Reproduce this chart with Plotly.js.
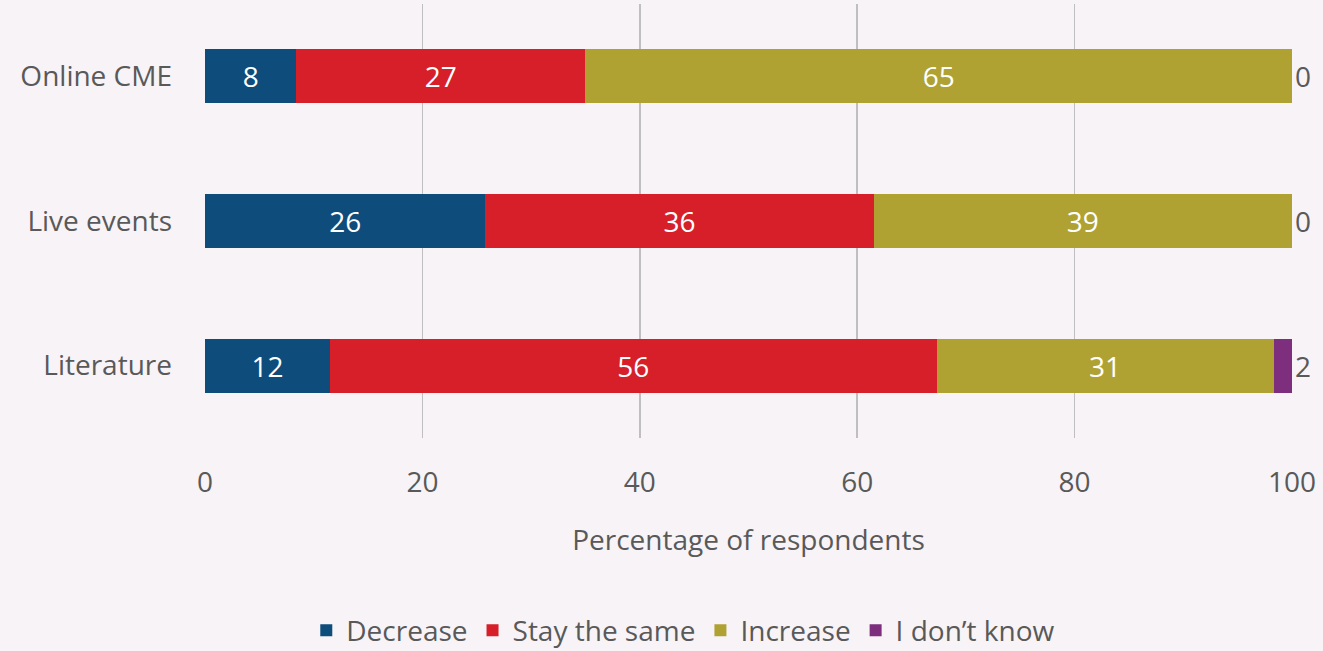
<!DOCTYPE html>
<html><head><meta charset="utf-8">
<script src="https://cdn.plot.ly/plotly-3.0.1.min.js"></script>
<style>html,body{margin:0;padding:0;background:#f7f3f7;}#chart{width:1323px;height:651px;}</style>
</head><body><div id="chart"></div>
<script>
const categories = ['Online CME', 'Live events', 'Literature'];
const seriesNames = ['Decrease', 'Stay the same', 'Increase', "I don\u2019t know"];
const decrease = [8.4, 25.8, 11.5];
const staySame = [26.6, 35.7, 55.8];
const increase = [65.0, 38.5, 31.0];
const dontKnow = [0, 0, 1.7];
const colors = ['#0e4c7c', '#d61f29', '#b0a232', '#7d2f7d'];
const xTicks = [0, 20, 40, 60, 80, 100];

const values = [decrease, staySame, increase, dontKnow];
const font = 'Open Sans, sans-serif';
const fs = 28;
const traces = values.map((v, i) => ({
  type: 'bar', orientation: 'h', name: seriesNames[i],
  x: v, y: categories,
  marker: {color: colors[i], line: {width: 0}},
  texttemplate: '%{x:.0f}',
  textposition: i === 3 ? 'outside' : 'inside',
  insidetextanchor: 'middle',
  textangle: 0,
  insidetextfont: {color: '#ffffff', size: fs, family: font},
  outsidetextfont: {color: '#595959', size: fs, family: font},
  cliponaxis: false,
  constraintext: 'none',
  hoverinfo: 'skip'
}));

const layout = {
  width: 1323, height: 651,
  paper_bgcolor: '#f7f3f7', plot_bgcolor: '#f7f3f7',
  barmode: 'stack', bargap: 0.625,
  margin: {l: 205, r: 31, t: 4, b: 213, autoexpand: false},
  font: {family: font, color: '#595959', size: fs},
  showlegend: true,
  legend: {orientation: 'h', x: 0.44, xanchor: 'center', yref: 'container', y: 0.07, yanchor: 'top',
           font: {size: fs, color: '#595959'}, itemclick: false, traceorder: 'normal',
           bgcolor: 'rgba(0,0,0,0)'},
  xaxis: {range: [0, 100], tickvals: xTicks, ticktext: xTicks.map(String),
          showgrid: true, gridcolor: '#bfbfbf', gridwidth: 1.5, zeroline: false,
          showline: false, ticks: '', ticklabelstandoff: 25,
          tickfont: {size: fs, color: '#595959'},
          title: {text: 'Percentage of respondents', font: {size: fs, color: '#595959'}, standoff: 31},
          fixedrange: true},
  yaxis: {categoryorder: 'array', categoryarray: categories, autorange: 'reversed',
          showgrid: false, zeroline: false, showline: false, ticks: '',
          ticklabelstandoff: 32, tickfont: {size: fs, color: '#595959'}, fixedrange: true}
};
Plotly.newPlot('chart', traces, layout, {displayModeBar: false, staticPlot: true});
</script></body></html>
